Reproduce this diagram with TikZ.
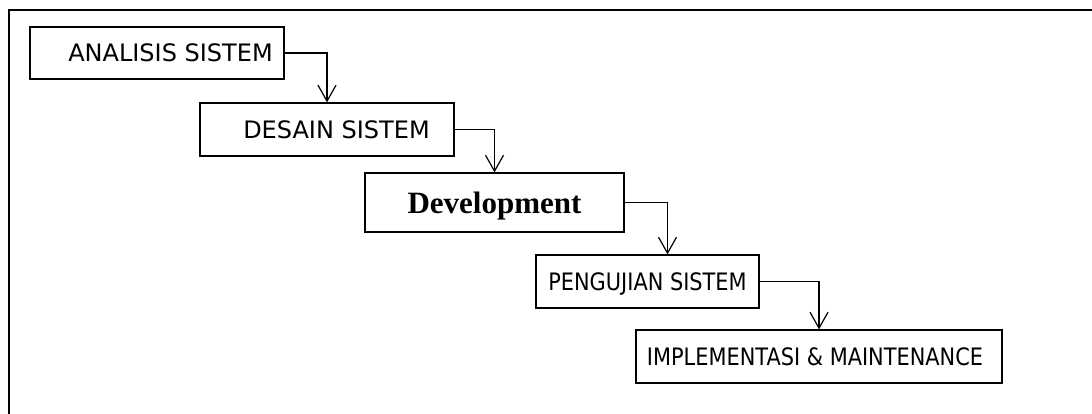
\documentclass[tikz,border=0pt]{standalone}
\usepackage{fontspec}
\setmainfont{Liberation Serif}
\newfontfamily\verd{DejaVu Sans}
\newfontfamily\verdn[FakeStretch=0.87]{DejaVu Sans}
\usetikzlibrary{arrows.meta}

\begin{document}
\begin{tikzpicture}[x=1pt,y=-1pt,>={Straight Barb[length=16pt,width=18pt]},
  bx/.style={draw,line width=1.2pt,inner sep=0pt,text depth=0pt,minimum height=53pt},
  big/.style={font=\verd\fontsize{24}{28}\selectfont},
  sml/.style={font=\verdn\fontsize{24}{28}\selectfont}]
\useasboundingbox (0,0) rectangle (1092,414);
% frame
\draw[line width=1.6pt] (9,414) -- (9,10) -- (1092,10);
\node[bx,big,minimum width=254pt,minimum height=52pt] (ana) at (157,53) {\hspace*{27pt}ANALISIS SISTEM};
\node[bx,big,minimum width=254pt] (des) at (327,129.5) {\hspace*{19pt}DESAIN SISTEM};
\node[bx,font=\fontsize{31}{36}\selectfont\bfseries,minimum width=259pt,minimum height=59pt] (dev) at (494.5,202.5) {Development};
\node[bx,sml,minimum width=223pt] (uji) at (647.5,281.5) {PENGUJIAN SISTEM};
\node[bx,sml,minimum width=366pt] (imp) at (819,356.5) {IMPLEMENTASI \& MAINTENANCE\hspace*{8pt}};
\draw[->,line width=1.2pt] (ana) -| (des);
\draw[->,line width=1.2pt] (des) -| (dev);
\draw[->,line width=1.2pt] (dev) -| ([xshift=20pt]uji.north);
\draw[->,line width=1.2pt] (uji) -| (imp);
\end{tikzpicture}
\end{document}
